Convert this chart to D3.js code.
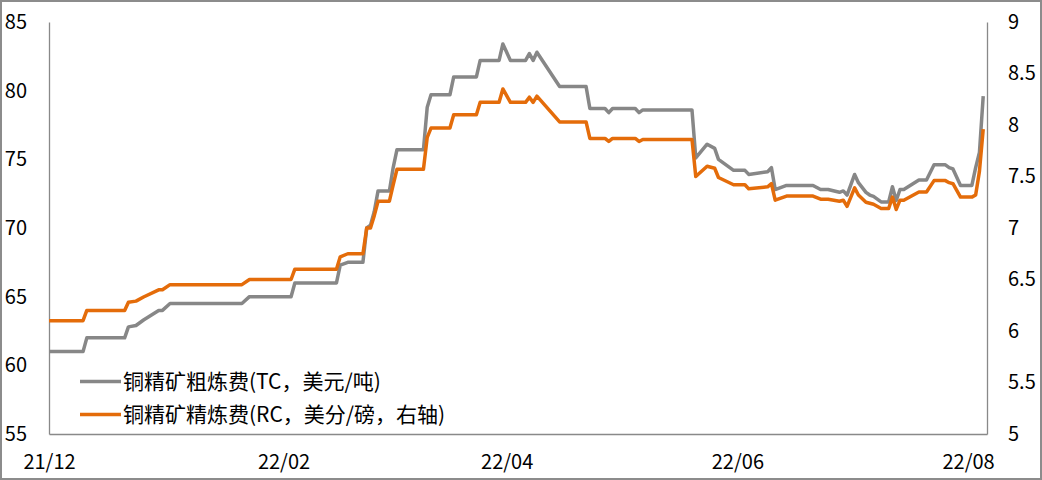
<!DOCTYPE html>
<html>
<head>
<meta charset="utf-8">
<script src="https://cdn.jsdelivr.net/npm/d3@7"></script>
<style>
  html, body { margin: 0; padding: 0; background: #fff; }
  svg { display: block; font-family: "Noto Sans CJK SC", "Noto Sans", sans-serif; }
</style>
</head>
<body>
<svg id="chart" width="1042" height="480"></svg>
<script>
// ---- data ----
const dates = [
  "2021-12-01","2021-12-10","2021-12-11","2021-12-21","2021-12-22","2021-12-24","2021-12-26","2021-12-30","2021-12-31",
  "2022-01-02","2022-01-21","2022-01-23",
  "2022-02-03","2022-02-04","2022-02-15","2022-02-16","2022-02-18","2022-02-22","2022-02-23","2022-02-24","2022-02-25","2022-02-26",
  "2022-03-01","2022-03-02","2022-03-03","2022-03-10","2022-03-11","2022-03-12","2022-03-17","2022-03-18","2022-03-24","2022-03-25","2022-03-30","2022-03-31",
  "2022-04-02","2022-04-06","2022-04-07","2022-04-08","2022-04-09","2022-04-15","2022-04-22","2022-04-23","2022-04-27","2022-04-28","2022-04-29",
  "2022-05-05","2022-05-06","2022-05-07","2022-05-20","2022-05-21","2022-05-24","2022-05-26","2022-05-27","2022-05-31",
  "2022-06-03","2022-06-04","2022-06-09","2022-06-10","2022-06-11","2022-06-14","2022-06-21","2022-06-23","2022-06-25","2022-06-28","2022-06-29","2022-06-30",
  "2022-07-02","2022-07-03","2022-07-05","2022-07-06","2022-07-07","2022-07-09","2022-07-11","2022-07-12","2022-07-13","2022-07-14","2022-07-15",
  "2022-07-19","2022-07-21","2022-07-23","2022-07-26","2022-07-27","2022-07-28","2022-07-30",
  "2022-08-02","2022-08-03","2022-08-04","2022-08-05"
];
const tcValues = [
  61.0,61.0,62.0,62.0,62.8,62.9,63.3,64.0,64.0,
  64.5,64.5,65.0,
  65.0,66.0,66.0,67.3,67.5,67.5,70.0,70.2,71.2,72.7,
  72.7,74.4,75.7,75.7,78.8,79.7,79.7,81.0,81.0,82.2,82.2,83.4,
  82.2,82.2,82.7,82.2,82.8,80.3,80.3,78.7,78.7,78.4,78.7,
  78.7,78.4,78.6,78.6,75.1,76.1,75.8,75.0,74.2,
  74.2,73.9,74.1,74.4,72.8,73.1,73.1,72.8,72.8,72.6,72.7,72.4,
  73.9,73.3,72.6,72.4,72.3,71.9,71.9,73.0,72.0,72.8,72.8,
  73.5,73.5,74.6,74.6,74.4,74.3,73.1,
  73.1,74.4,75.5,79.6
];
const rcValues = [
  6.10,6.10,6.20,6.20,6.28,6.29,6.33,6.40,6.40,
  6.45,6.45,6.50,
  6.50,6.60,6.60,6.72,6.75,6.75,7.00,7.00,7.12,7.26,
  7.26,7.42,7.57,7.57,7.88,7.97,7.97,8.10,8.10,8.22,8.22,8.35,
  8.22,8.22,8.27,8.22,8.28,8.03,8.03,7.87,7.87,7.84,7.87,
  7.87,7.84,7.86,7.86,7.50,7.60,7.58,7.49,7.42,
  7.42,7.38,7.40,7.43,7.27,7.31,7.31,7.28,7.28,7.26,7.27,7.21,
  7.39,7.32,7.25,7.24,7.23,7.19,7.19,7.30,7.18,7.27,7.27,
  7.35,7.35,7.46,7.46,7.44,7.43,7.30,
  7.30,7.32,7.55,7.96
];
const seriesNames = ["铜精矿粗炼费(TC，美元/吨)", "铜精矿精炼费(RC，美分/磅，右轴)"];
const leftTicks = [55, 60, 65, 70, 75, 80, 85];
const rightTicks = [5, 5.5, 6, 6.5, 7, 7.5, 8, 8.5, 9];
const xTickDates = ["2021-12-01", "2022-02-01", "2022-04-01", "2022-06-01", "2022-08-01"];
const xTickLabels = ["21/12", "22/02", "22/04", "22/06", "22/08"];

// ---- drawing ----
const parse = d3.timeParse("%Y-%m-%d");
const svg = d3.select("#chart");
const W = 1042, H = 480;
const plot = { left: 49, right: 987, top: 22, bottom: 434 };
const axisColor = "#898989";
const colors = ["#878787", "#E46C0A"];

svg.append("rect").attr("x", 1).attr("y", 1).attr("width", W - 2).attr("height", H - 2)
  .attr("fill", "#fff").attr("stroke", "#8c8c8c").attr("stroke-width", 2);

const x = d3.scaleTime()
  .domain([parse("2021-12-01"), parse("2022-08-06")])
  .range([plot.left, plot.right]);
const yL = d3.scaleLinear().domain([55, 85]).range([plot.bottom, plot.top]);
const yR = d3.scaleLinear().domain([5, 9]).range([plot.bottom, plot.top]);

function styleAxis(g, size) {
  g.select(".domain").attr("stroke", axisColor).attr("stroke-width", 1.3);
  g.selectAll(".tick line").remove();
  g.selectAll("text").attr("fill", "#000").style("font-size", size + "px")
    .style("font-family", '"Noto Sans CJK SC", "Noto Sans", sans-serif');
}

const gL = svg.append("g").attr("transform", `translate(${plot.left},0)`)
  .call(d3.axisLeft(yL).tickValues(leftTicks).tickSize(0).tickSizeOuter(0).tickPadding(22)
    .tickFormat(d => String(d)));
styleAxis(gL, 20);

const gR = svg.append("g").attr("transform", `translate(${plot.right},0)`)
  .call(d3.axisRight(yR).tickValues(rightTicks).tickSize(0).tickSizeOuter(0).tickPadding(21)
    .tickFormat(d => String(d)));
styleAxis(gR, 20);

const xTicks = xTickDates.map(parse);
const gB = svg.append("g").attr("transform", `translate(0,${plot.bottom})`)
  .call(d3.axisBottom(x).tickValues(xTicks).tickSize(0).tickSizeOuter(0).tickPadding(21)
    .tickFormat((d, i) => xTickLabels[i]));
styleAxis(gB, 20);

const tcData = dates.map((d, i) => ({ date: parse(d), v: tcValues[i] }));
const rcData = dates.map((d, i) => ({ date: parse(d), v: rcValues[i] }));

const lineL = d3.line().x(d => x(d.date)).y(d => yL(d.v));
const lineR = d3.line().x(d => x(d.date)).y(d => yR(d.v));

svg.append("path").datum(tcData).attr("d", lineL)
  .attr("fill", "none").attr("stroke", colors[0]).attr("stroke-width", 3.5)
  .attr("stroke-linejoin", "round");
svg.append("path").datum(rcData).attr("d", lineR)
  .attr("fill", "none").attr("stroke", colors[1]).attr("stroke-width", 3.5)
  .attr("stroke-linejoin", "round");

// legend
const legend = svg.append("g");
const legendRows = [381.5, 414.5];
seriesNames.forEach((name, i) => {
  const y = legendRows[i];
  legend.append("line").attr("x1", 80).attr("x2", 121).attr("y1", y).attr("y2", y)
    .attr("stroke", colors[i]).attr("stroke-width", 3.5);
  legend.append("text").attr("x", 123).attr("y", y + 7.5)
    .attr("fill", "#000").style("font-size", "21px").text(name);
});
</script>
</body>
</html>
